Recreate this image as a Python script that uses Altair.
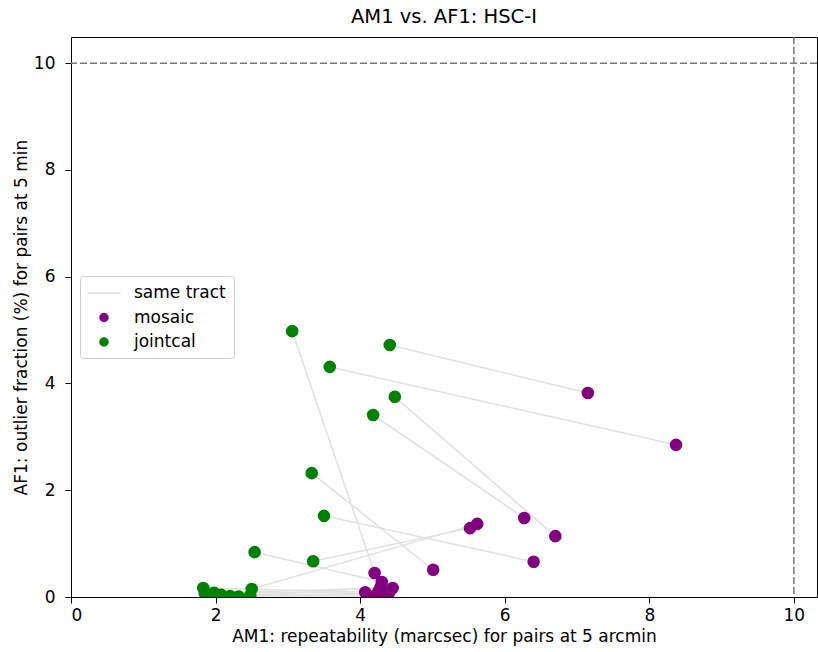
import altair as alt
import pandas as pd

# Per-tract metrics: each jointcal point is paired with the mosaic point of the same tract
jointcal_am1 = [3.06, 4.41, 3.58, 4.48, 4.18, 3.33, 3.50, 2.54, 3.35, 2.50,
                1.83, 1.85, 1.98, 2.08, 2.20, 2.32, 2.48]
jointcal_af1 = [4.98, 4.72, 4.31, 3.75, 3.41, 2.32, 1.52, 0.84, 0.67, 0.15,
                0.17, 0.07, 0.08, 0.04, 0.02, 0.01, 0.03]
mosaic_am1 = [4.20, 7.15, 8.37, 6.70, 6.27, 5.01, 6.40, 4.30, 5.52, 5.62,
              4.07, 4.25, 4.45, 4.35, 4.12, 4.40, 4.28]
mosaic_af1 = [0.45, 3.82, 2.85, 1.14, 1.48, 0.51, 0.66, 0.28, 1.29, 1.37,
              0.09, 0.10, 0.17, 0.05, 0.02, 0.08, 0.18]

# Requirement thresholds
am1_limit = [10]
af1_limit = [10]

x_ticks = [0, 2, 4, 6, 8, 10]
y_ticks = [0, 2, 4, 6, 8, 10]
x_domain = [0, 10.32]
y_domain = [0, 10.49]

FONT = "DejaVu Sans"
LABEL_SIZE = 17
categories = ["same tract", "mosaic", "jointcal"]
colors = ["#dcdcdc", "purple", "green"]
# unit-space symbol paths: a long stroke for the pairing line, a disc for points
line_path = "M-2.06,0L2.06,0"
disc_path = "M-0.5,0A0.5,0.5,0,1,1,0.5,0A0.5,0.5,0,1,1,-0.5,0Z"
shapes = [line_path, disc_path, disc_path]

rows = []
for i in range(len(jointcal_am1)):
    rows.append({"tract": i, "kind": "mosaic", "am1": mosaic_am1[i], "af1": mosaic_af1[i]})
    rows.append({"tract": i, "kind": "jointcal", "am1": jointcal_am1[i], "af1": jointcal_af1[i]})
df = pd.DataFrame(rows)

x_scale = alt.Scale(domain=x_domain, nice=False, zero=False)
y_scale = alt.Scale(domain=y_domain, nice=False, zero=False)

x_axis = alt.Axis(values=x_ticks, title="AM1: repeatability (marcsec) for pairs at 5 arcmin",
                  grid=False, tickSize=6, labelPadding=4, titlePadding=5, format="d")
y_axis = alt.Axis(values=y_ticks, title="AF1: outlier fraction (%) for pairs at 5 min",
                  grid=False, tickSize=6, labelPadding=10, titlePadding=3, format="d")

links = alt.Chart(df).mark_line(color="#e1e1e1", strokeWidth=1.5, clip=True).encode(
    x=alt.X("am1:Q", scale=x_scale, axis=x_axis),
    y=alt.Y("af1:Q", scale=y_scale, axis=y_axis),
    detail="tract:N",
)

legend = alt.Legend(
    title=None, orient="none", legendX=9, legendY=239,
    strokeColor="#cccccc", fillColor="white", cornerRadius=3, padding=8,
    symbolSize=256, symbolStrokeWidth=1.5, symbolOffset=7,
    labelFontSize=LABEL_SIZE, labelFont=FONT,
    labelOffset=21, rowPadding=7.5, labelColor="black",
)

points = alt.Chart(df).mark_point(filled=True, opacity=1, size=449, clip=True).encode(
    x=alt.X("am1:Q", scale=x_scale),
    y=alt.Y("af1:Q", scale=y_scale),
    fill=alt.Fill("kind:N", scale=alt.Scale(domain=categories, range=colors), legend=legend),
    stroke=alt.Stroke("kind:N", scale=alt.Scale(domain=categories, range=colors), legend=legend),
    shape=alt.Shape("kind:N", scale=alt.Scale(domain=categories, range=shapes), legend=legend),
)

vline = alt.Chart(pd.DataFrame({"am1": am1_limit})).mark_rule(
    color="#777777", strokeWidth=1.5, strokeDash=[7, 3]
).encode(x=alt.X("am1:Q", scale=x_scale))

hline = alt.Chart(pd.DataFrame({"af1": af1_limit})).mark_rule(
    color="#777777", strokeWidth=1.5, strokeDash=[7, 3]
).encode(y=alt.Y("af1:Q", scale=y_scale))

chart = alt.layer(hline, vline, links, points).properties(
    width=746, height=560,
    title=alt.Title("AM1 vs. AF1: HSC-I", fontSize=19.5, font=FONT, fontWeight="normal",
                    offset=9, color="black"),
    padding={"left": 71, "top": 37, "right": 1, "bottom": 55},
    autosize=alt.AutoSizeParams(type="none"),
).configure_view(
    stroke="black", strokeWidth=1
).configure_axis(
    labelFont=FONT, titleFont=FONT, labelFontSize=LABEL_SIZE, titleFontSize=LABEL_SIZE,
    titleFontWeight="normal", labelColor="black", titleColor="black",
    domainColor="black", tickColor="black", domainWidth=1,
)

chart.save("out.html", embed_options={"renderer": "svg", "actions": False})
